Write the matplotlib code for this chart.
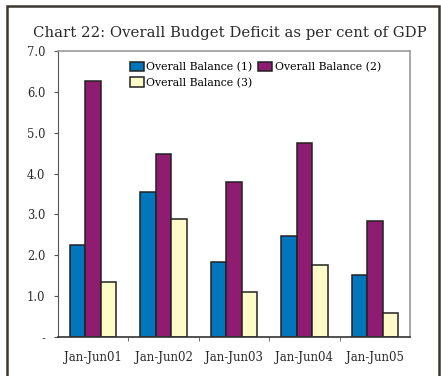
import numpy as np
import matplotlib.pyplot as plt
from matplotlib.patches import Rectangle

periods = ['Jan-Jun01', 'Jan-Jun02', 'Jan-Jun03', 'Jan-Jun04', 'Jan-Jun05']
balance_1 = [2.25, 3.54, 1.83, 2.46, 1.51]
balance_2 = [6.26, 4.49, 3.79, 4.75, 2.84]
balance_3 = [1.35, 2.88, 1.10, 1.76, 0.59]
series_names = ['Overall Balance (1)', 'Overall Balance (2)', 'Overall Balance (3)']
y_ticks = [0, 1, 2, 3, 4, 5, 6, 7]
y_labels = ['-', '1.0', '2.0', '3.0', '4.0', '5.0', '6.0', '7.0']

plt.rcParams['font.family'] = ['DejaVu Serif']

W, H = 441, 376
fig = plt.figure(figsize=(W / 100, H / 100), dpi=100)
ax = fig.add_axes([58 / W, 1 - 337 / H, 352 / W, 286 / H])

# outer border around the whole chart
fig.patches.append(Rectangle((7 / W, -0.05), 432 / W, 1.05 - 6 / H,
                             transform=fig.transFigure, fill=False,
                             edgecolor='#3a3530', linewidth=1.8))

x = np.arange(len(periods))
w = 0.22
colors = ['#0077BD', '#8E1C70', '#FFFBC8']
bars = []
for i, (vals, c, name) in enumerate(zip([balance_1, balance_2, balance_3], colors, series_names)):
    bars.append(ax.bar(x + (i - 1) * w, vals, w, color=c, edgecolor='#222222',
                       linewidth=1.1, label=name))

ax.set_xlim(-0.5, len(periods) - 0.5)
ax.set_ylim(0, 7)
ax.set_yticks(y_ticks)
ax.set_yticklabels(y_labels, fontsize=8.3, color='#2a2a2a')
ax.set_xticks(x)
ax.set_xticklabels(periods, fontsize=8.5, color='#2a2a2a')
ax.tick_params(axis='x', length=0, pad=10)
ax.set_xticks(np.arange(0.5, len(periods) - 0.5), minor=True)
ax.tick_params(axis='x', which='minor', length=3, direction='out', color='#555555')
ax.tick_params(axis='y', length=3, direction='out', color='#555555', pad=6)

for s in ['top', 'right']:
    ax.spines[s].set_color('#999999')
    ax.spines[s].set_linewidth(1.2)
ax.spines['left'].set_color('#555555')
ax.spines['bottom'].set_color('#333333')
ax.spines['bottom'].set_linewidth(1.2)

# legend filled row by row: (1) (2) / (3)
order = [0, 2, 1]
leg = ax.legend([bars[k] for k in order], [series_names[k] for k in order],
                loc='upper left', bbox_to_anchor=(0.185, 0.985), ncol=2, frameon=False,
                fontsize=7.8, handlelength=1.3, handleheight=1.0, handletextpad=0.25,
                columnspacing=0.5, labelspacing=0.45, borderaxespad=0.2)

fig.text(230 / W, 1 - 33 / H, 'Chart 22: Overall Budget Deficit as per cent of GDP',
         ha='center', va='center', fontsize=10.7, color='#2a2a2a')

fig.savefig('out.png', dpi=100)
